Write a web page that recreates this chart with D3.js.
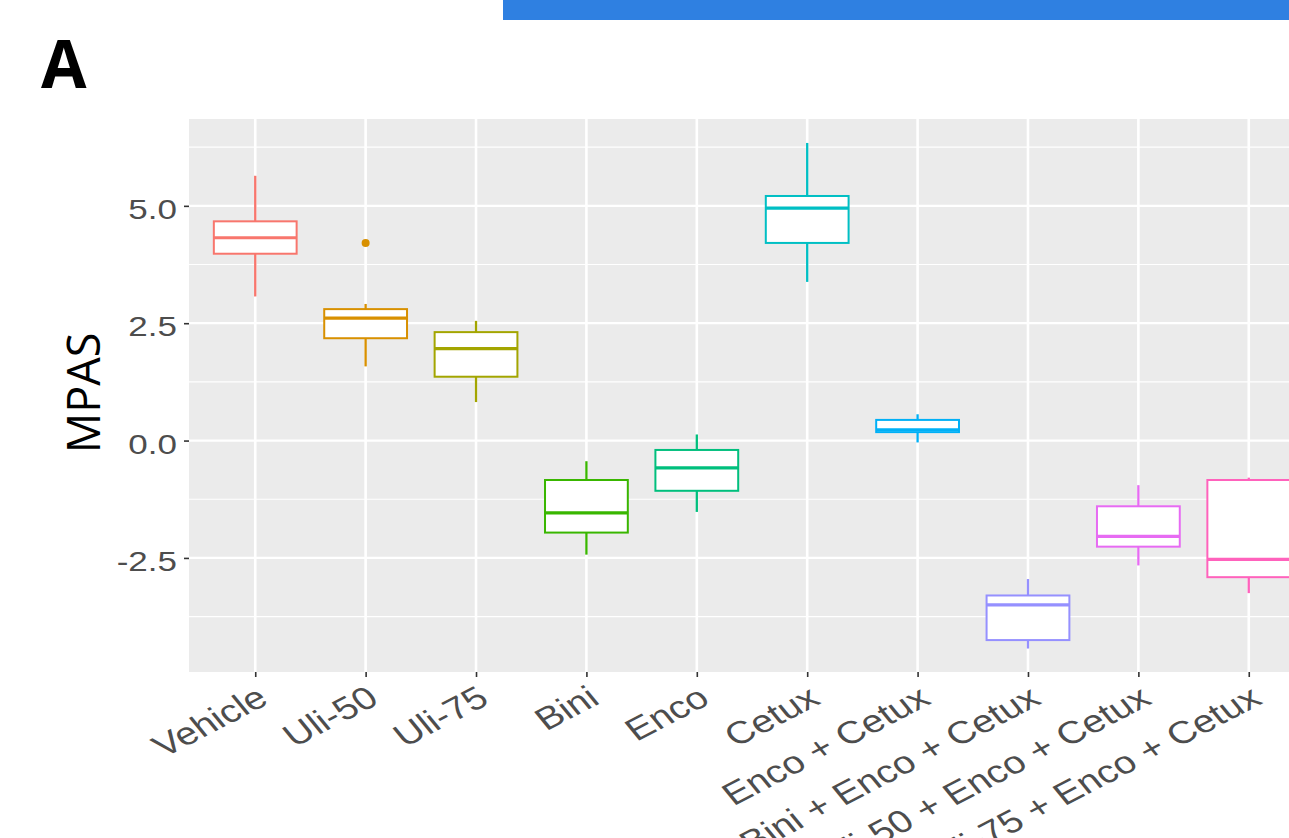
<!DOCTYPE html>
<html>
<head>
<meta charset="utf-8">
<script src="https://cdn.jsdelivr.net/npm/d3@7"></script>
<style>
  html, body { margin: 0; padding: 0; background: #ffffff; overflow: hidden; }
  svg { display: block; }
</style>
</head>
<body>
<svg id="chart" width="1289" height="838"></svg>
<script>
// Treatment groups, left to right
const categories = [
  "Vehicle", "Uli-50", "Uli-75", "Bini", "Enco", "Cetux",
  "Enco + Cetux", "Bini + Enco + Cetux", "Uli-50 + Enco + Cetux", "Uli-75 + Enco + Cetux"
];
// Box statistics per group
const whiskerLow  = [3.07, 1.58, 0.82, -2.43, -1.52, 3.38, -0.04, -4.43, -2.66, -3.25];
const q1          = [3.98, 2.18, 1.36, -1.96, -1.07, 4.21,  0.18, -4.25, -2.26, -2.91];
const median      = [4.32, 2.61, 1.96, -1.54, -0.58, 4.95,  0.23, -3.50, -2.04, -2.53];
const q3          = [4.67, 2.80, 2.31, -0.84, -0.20, 5.21,  0.44, -3.30, -1.40, -0.84];
const whiskerHigh = [5.64, 2.91, 2.55, -0.44,  0.13, 6.34,  0.56, -2.95, -0.95, -0.79];
const outliers    = [[], [4.21], [], [], [], [], [], [], [], []];
// Axis ticks
const yTicks = [-2.5, 0.0, 2.5, 5.0];
const yMinorTicks = [-3.75, -1.25, 1.25, 3.75, 6.25];
const yDomain = [-4.93, 6.85];
// ggplot default hue palette for ten groups
const colors = ["#F8766D", "#D89000", "#A3A500", "#39B600", "#00BF7D",
                "#00BFC4", "#00B0F6", "#9590FF", "#E76BF3", "#FF62BC"];

const svg = d3.select("#chart");

// top accent bar
svg.append("rect").attr("x", 503).attr("y", 0).attr("width", 786).attr("height", 20)
  .attr("fill", "#2F80E1");

// panel letter
svg.append("text").attr("x", 41).attr("y", 88)
  .attr("font-family", "'Open Sans', sans-serif").attr("font-weight", 700)
  .attr("font-size", 66).attr("fill", "#000").text("A");

const panel = { left: 189, right: 1315, top: 119, bottom: 672 };
const stretch = 1.25; // horizontal stretch of the chart lettering

const x = d3.scalePoint().domain(categories).range([panel.left, panel.right]).padding(0.6);
const y = d3.scaleLinear().domain(yDomain).range([panel.bottom, panel.top]);
const boxW = x.step() * 0.75;

const g = svg.append("g");

g.append("rect")
  .attr("x", panel.left).attr("y", panel.top)
  .attr("width", panel.right - panel.left).attr("height", panel.bottom - panel.top)
  .attr("fill", "#EBEBEB");

// grid
g.selectAll(".minor").data(yMinorTicks).join("line")
  .attr("x1", panel.left).attr("x2", panel.right)
  .attr("y1", d => y(d)).attr("y2", d => y(d))
  .attr("stroke", "#ffffff").attr("stroke-width", 1.1);
g.selectAll(".major").data(yTicks).join("line")
  .attr("x1", panel.left).attr("x2", panel.right)
  .attr("y1", d => y(d)).attr("y2", d => y(d))
  .attr("stroke", "#ffffff").attr("stroke-width", 2.2);
g.selectAll(".vmajor").data(categories).join("line")
  .attr("x1", d => x(d)).attr("x2", d => x(d))
  .attr("y1", panel.top).attr("y2", panel.bottom)
  .attr("stroke", "#ffffff").attr("stroke-width", 2.6);

// boxes
const rows = categories.map((c, i) => ({
  c, i, lo: whiskerLow[i], q1: q1[i], med: median[i], q3: q3[i], hi: whiskerHigh[i],
  out: outliers[i], col: colors[i]
}));

const bx = g.selectAll(".box").data(rows).join("g");
bx.append("line")
  .attr("x1", d => x(d.c)).attr("x2", d => x(d.c))
  .attr("y1", d => y(d.q3)).attr("y2", d => y(d.hi))
  .attr("stroke", d => d.col).attr("stroke-width", 2.3);
bx.append("line")
  .attr("x1", d => x(d.c)).attr("x2", d => x(d.c))
  .attr("y1", d => y(d.q1)).attr("y2", d => y(d.lo))
  .attr("stroke", d => d.col).attr("stroke-width", 2.3);
bx.append("rect")
  .attr("x", d => x(d.c) - boxW / 2).attr("width", boxW)
  .attr("y", d => y(d.q3)).attr("height", d => y(d.q1) - y(d.q3))
  .attr("fill", "#ffffff").attr("stroke", d => d.col).attr("stroke-width", 2);
bx.append("line")
  .attr("x1", d => x(d.c) - boxW / 2).attr("x2", d => x(d.c) + boxW / 2)
  .attr("y1", d => y(d.med)).attr("y2", d => y(d.med))
  .attr("stroke", d => d.col).attr("stroke-width", 3.2);
bx.selectAll("circle").data(d => d.out.map(v => ({ v, c: d.c, col: d.col }))).join("circle")
  .attr("cx", d => x(d.c)).attr("cy", d => y(d.v)).attr("r", 4)
  .attr("fill", d => d.col);

// y axis
const yAxis = g.append("g").attr("transform", `translate(${panel.left},0)`)
  .call(d3.axisLeft(y).tickValues(yTicks).tickFormat(d => d.toFixed(1)).tickSize(5).tickPadding(0));
yAxis.select(".domain").remove();
yAxis.selectAll(".tick line").attr("stroke", "#333333").attr("stroke-width", 1.6);
yAxis.selectAll(".tick text")
  .attr("x", null).attr("dy", null)
  .attr("text-anchor", "end").attr("dominant-baseline", "central")
  .attr("transform", `translate(-12,3) scale(${stretch},1)`)
  .attr("font-family", "'Liberation Sans', Arial, sans-serif").attr("font-size", 28)
  .attr("fill", "#4D4D4D");

// x axis
const xAxis = g.append("g").attr("transform", `translate(0,${panel.bottom})`)
  .call(d3.axisBottom(x).tickSize(5).tickPadding(0));
xAxis.select(".domain").remove();
xAxis.selectAll(".tick line").attr("stroke", "#333333").attr("stroke-width", 1.6);
xAxis.selectAll(".tick text")
  .attr("y", null).attr("dy", null)
  .attr("text-anchor", "end").attr("dominant-baseline", "hanging")
  .attr("transform", `translate(-1,12) scale(${stretch},1) rotate(-33)`)
  .attr("font-family", "'Liberation Sans', Arial, sans-serif").attr("font-size", 31.5)
  .attr("fill", "#4D4D4D");

// y axis title
svg.append("text")
  .attr("transform", "translate(100,393) rotate(-90)")
  .attr("text-anchor", "middle")
  .attr("font-family", "'Open Sans', sans-serif").attr("font-size", 45)
  .attr("fill", "#000").text("MPAS");
</script>
</body>
</html>
